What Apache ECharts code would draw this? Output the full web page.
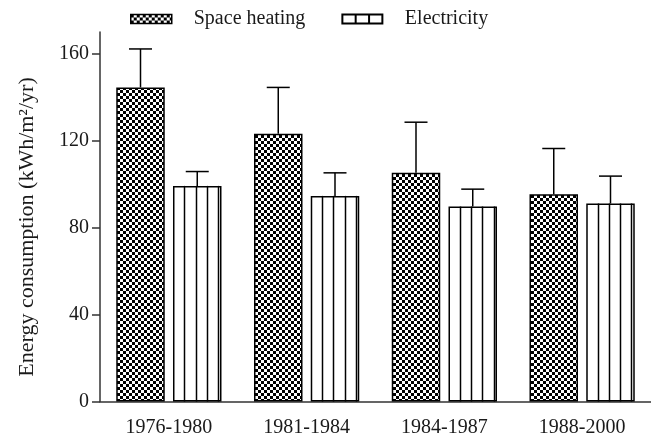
<!DOCTYPE html>
<html>
<head>
<meta charset="utf-8">
<script src="https://cdn.jsdelivr.net/npm/echarts@6/dist/echarts.min.js"></script>
<style>html,body{margin:0;padding:0;background:#fff;}#c{width:651px;height:443px;}</style>
</head>
<body>
<div id="c"></div>
<script>
const categories = ['1976-1980', '1981-1984', '1984-1987', '1988-2000'];
const spaceHeating = [144.5, 123.2, 105.3, 95.4];
const spaceHeatingErr = [17.7, 21.3, 23.2, 21.0];
const electricity = [99.2, 94.6, 89.7, 91.1];
const electricityErr = [6.6, 10.6, 8.0, 12.6];
const yTicks = [0, 40, 80, 120, 160];
const yName = 'Energy consumption (kWh/m\u00B2/yr)';

const FONT = 'Liberation Serif';
const TXT = '#1a1a1a';
const BAR_W = 48.5;
const GAP_RATIO = 0.17;
const GAP = BAR_W * GAP_RATIO;

// checkerboard pattern
const pc = document.createElement('canvas');
pc.width = 6; pc.height = 6;
const pctx = pc.getContext('2d');
pctx.fillStyle = '#fff'; pctx.fillRect(0, 0, 6, 6);
pctx.fillStyle = '#000';
pctx.fillRect(0, 0, 3, 3); pctx.fillRect(3, 3, 3, 3);
const checker = { image: pc, repeat: 'repeat' };

function makeRender(side, withLines) {
  return function (params, api) {
    const idx = api.value(0), val = api.value(1), err = api.value(2);
    const c = api.coord([idx, val]);
    const top = api.coord([idx, val + err]);
    const base = api.coord([idx, 0]);
    const x0 = side < 0 ? c[0] - GAP / 2 - BAR_W : c[0] + GAP / 2;
    const cx = x0 + BAR_W / 2;
    const st = { stroke: '#000', lineWidth: 1.5 };
    const children = [];
    if (withLines) {
      for (let k = 1; k <= 4; k++) {
        const lx = Math.round(x0 + k * 11.3) + 0.5;
        children.push({ type: 'line', shape: { x1: lx, y1: c[1], x2: lx, y2: base[1] }, style: st });
      }
    }
    children.push({ type: 'line', shape: { x1: cx, y1: c[1], x2: cx, y2: top[1] }, style: st });
    children.push({ type: 'line', shape: { x1: cx - 11.5, y1: top[1], x2: cx + 11.5, y2: top[1] }, style: st });
    return { type: 'group', children };
  };
}

const chart = echarts.init(document.getElementById('c'), null, { renderer: 'canvas' });
chart.setOption({
  animation: false,
  backgroundColor: '#fff',
  textStyle: { fontFamily: FONT, color: TXT },
  legend: {
    left: 130, top: 9, padding: 0,
    itemWidth: 41, itemHeight: 9, itemGap: 36,
    textStyle: { fontFamily: FONT, fontSize: 20, color: TXT, padding: [0, 0, 0, 17] },
    data: [
      { name: 'Space heating', icon: 'rect', itemStyle: { color: checker, borderColor: '#000', borderWidth: 1.5 } },
      { name: 'Electricity', icon: 'path://M0,0H40V9H0Z M13.3,0V9 M26.7,0V9', itemStyle: { color: '#fff', borderColor: '#000', borderWidth: 2 } }
    ]
  },
  graphic: [{
    type: 'text', x: 27, y: 227, rotation: Math.PI / 2,
    style: { text: yName, font: '22px "' + FONT + '"', fill: TXT, textAlign: 'center', textVerticalAlign: 'middle' }
  }],
  grid: { left: 100, top: 32, width: 555, height: 369.5, containLabel: false },
  xAxis: {
    type: 'category', data: categories,
    axisLine: { lineStyle: { color: '#333', width: 1.5 } },
    axisTick: { alignWithLabel: true, length: 9, lineStyle: { color: '#333', width: 1.5 } },
    axisLabel: { fontFamily: FONT, fontSize: 20, color: TXT, margin: 16 }
  },
  yAxis: {
    type: 'value', min: 0, max: 170,
    splitLine: { show: false },
    axisLine: { show: true, lineStyle: { color: '#333', width: 1.5 } },
    axisTick: { show: true, length: 8, customValues: yTicks, lineStyle: { color: '#333', width: 1.5 } },
    axisLabel: { fontFamily: FONT, fontSize: 20, color: TXT, margin: 11, customValues: yTicks }
  },
  series: [
    {
      name: 'Space heating', type: 'bar', data: spaceHeating,
      barWidth: BAR_W, barGap: (GAP_RATIO * 100) + '%',
      itemStyle: { color: checker, borderColor: '#000', borderWidth: 1.5 }
    },
    {
      name: 'Electricity', type: 'bar', data: electricity,
      barWidth: BAR_W,
      itemStyle: { color: '#fff', borderColor: '#000', borderWidth: 1.5 }
    },
    {
      type: 'custom', z: 5, silent: true,
      renderItem: makeRender(-1, false),
      data: spaceHeating.map((v, i) => [i, v, spaceHeatingErr[i]])
    },
    {
      type: 'custom', z: 5, silent: true,
      renderItem: makeRender(1, true),
      data: electricity.map((v, i) => [i, v, electricityErr[i]])
    }
  ]
});
</script>
</body>
</html>
